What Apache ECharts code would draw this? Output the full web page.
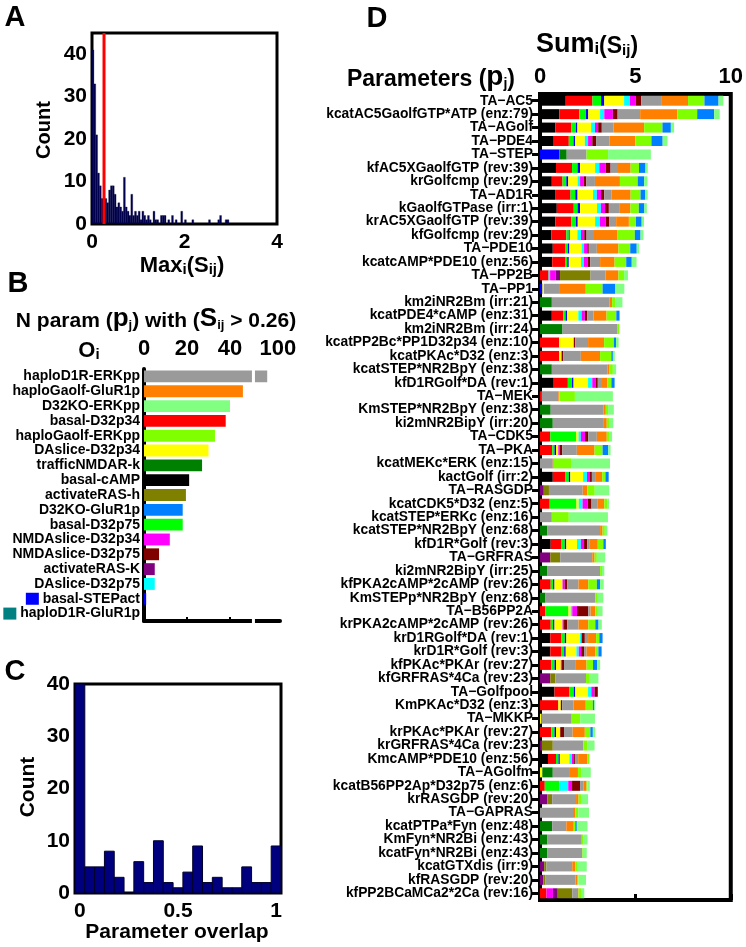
<!DOCTYPE html>
<html><head><meta charset="utf-8">
<script src="https://cdn.jsdelivr.net/npm/echarts@6/dist/echarts.min.js"></script>
<style>html,body{margin:0;padding:0;background:#fff}#c{width:746px;height:947px}</style>
</head><body><div id="c"></div>
<script>
// ---------------- DATA ----------------
// Panel A: histogram of Max_i(S_ij), bin width 0.04 starting at 0
const aBinWidth = 0.04;
const aCounts = [41,33,21,12,9,6,5,6,5,8, 9,9,7,4,5,4,3,11,4,3, 2,7,2,3,2,3,1,3,2,1,
  2,1,0,3,1,1,0,2,2,2, 0,1,0,2,0,1,0,0,3,0, 1,0,0,0,1,0,0,0,0,0, 0,0,0,1,0,0,0,0,1,2, 0,0,1,1];
const aThreshold = 0.26;

// Panel B: number of parameters with S_ij > 0.26 per experiment
const bExperiments = ['haploD1R-ERKpp','haploGaolf-GluR1p','D32KO-ERKpp','basal-D32p34','haploGaolf-ERKpp',
  'DAslice-D32p34','trafficNMDAR-k','basal-cAMP','activateRAS-h','D32KO-GluR1p','basal-D32p75',
  'NMDAslice-D32p34','NMDAslice-D32p75','activateRAS-K','DAslice-D32p75','basal-STEPact','haploD1R-GluR1p'];
const bCounts = [95,46,40,38,33,30,27,21,19.5,18,18,12,7,5,5,1,0];
const bColors = ['#9a9a9a','#ff8000','#80ff80','#ff0000','#80ff00','#ffff00','#008000','#000000','#808000',
  '#0080ff','#00ff00','#ff00ff','#800000','#800080','#00ffff','#0000ff','#008080'];
const bTickLabels = [0,20,40,100];
const bBreak = [50.2, 51.6];   // axis break (in axis units)
const bBreakShift = 37.7;      // values above break are shifted left by this

// Panel C: histogram of parameter overlap
const cBinCenters = [0,0.05,0.1,0.15,0.2,0.25,0.3,0.35,0.4,0.45,0.5,0.55,0.6,0.65,0.7,0.75,0.8,0.85,0.9,0.95,1];
const cCounts = [40,5,5,8,3,0,6,2,10,2,1,4,9,2,3,1,1,5,2,2,9];
const cBinWidth = 0.05;

// Panel D: Sum_i(S_ij) per parameter, stacked by experiment
const dParams = ['TA\u2212AC5','kcatAC5GaolfGTP*ATP (enz:79)','TA\u2212AGolf','TA\u2212PDE4','TA\u2212STEP',
 'kfAC5XGaolfGTP (rev:39)','krGolfcmp (rev:29)','TA\u2212AD1R','kGaolfGTPase (irr:1)','krAC5XGaolfGTP (rev:39)',
 'kfGolfcmp (rev:29)','TA\u2212PDE10','kcatcAMP*PDE10 (enz:56)','TA\u2212PP2B','TA\u2212PP1',
 'km2iNR2Bm (irr:21)','kcatPDE4*cAMP (enz:31)','km2iNR2Bm (irr:24)','kcatPP2Bc*PP1D32p34 (enz:10)','kcatPKAc*D32 (enz:3)',
 'kcatSTEP*NR2BpY (enz:38)','kfD1RGolf*DA (rev:1)','TA\u2212MEK','KmSTEP*NR2BpY (enz:38)','ki2mNR2BipY (irr:20)',
 'TA\u2212CDK5','TA\u2212PKA','kcatMEKc*ERK (enz:15)','kactGolf (irr:2)','TA\u2212RASGDP',
 'kcatCDK5*D32 (enz:5)','kcatSTEP*ERKc (enz:16)','kcatSTEP*NR2BpY (enz:68)','kfD1R*Golf (rev:3)','TA\u2212GRFRAS',
 'ki2mNR2BipY (irr:25)','kfPKA2cAMP*2cAMP (rev:26)','KmSTEPp*NR2BpY (enz:68)','TA\u2212B56PP2A','krPKA2cAMP*2cAMP (rev:26)',
 'krD1RGolf*DA (rev:1)','krD1R*Golf (rev:3)','kfPKAc*PKAr (rev:27)','kfGRFRAS*4Ca (rev:23)','TA\u2212Golfpool',
 'KmPKAc*D32 (enz:3)','TA\u2212MKKP','krPKAc*PKAr (rev:27)','krGRFRAS*4Ca (rev:23)','KmcAMP*PDE10 (enz:56)',
 'TA\u2212AGolfm','kcatB56PP2Ap*D32p75 (enz:6)','krRASGDP (rev:20)','TA\u2212GAPRAS','kcatPTPa*Fyn (enz:48)',
 'KmFyn*NR2Bi (enz:43)','kcatFyn*NR2Bi (enz:43)','kcatGTXdis (irr:9)','kfRASGDP (rev:20)','kfPP2BCaMCa2*2Ca (rev:16)'];

const dBasalCAMP = [1.35,1.01,0.81,0.72,0,0.84,0.62,0.79,0.88,0.81, 0.59,0.67,0.64,0,0,0,0.62,0,0,0, 0,0.72,0,0,0,0,0,0,0.67,0, 0,0,0,0.56,0,0,0,0,0,0, 0.54,0.54,0,0,0.76,0,0,0,0,0.42, 0,0,0,0,0,0,0,0,0,0];
const dBasalD32p34 = [1.40,1.06,0.82,0.79,0,0.84,0.56,0.81,0.89,0.82, 0.79,0.64,0.67,0.45,0,0,0.59,0,1.01,1.01, 0,0.74,0.08,0,0,0.54,0.64,0,0.67,0, 0.51,0,0,0.54,0,0,0.56,0,0.29,0.56, 0.59,0.56,0.59,0,0.76,0.96,0,0.59,0,0.42, 0,0.25,0,0,0,0,0,0,0,0.34];
const dBasalD32p75 = [0.45,0.34,0.25,0.25,0,0.29,0.20,0.25,0.20,0.25, 0.13,0.15,0.12,0,0,0,0.13,0,0,0, 0,0.22,0,0,0,1.36,0.12,0,0.17,0, 1.40,0,0,0.20,0,0,0.12,0,1.20,0.12, 0.17,0.17,0.17,0,0.25,0,0,0.17,0,0.13, 0,0.76,0,0,0,0,0,0,0,0];
const dBasalSTEPact = [0.17,0.12,0.08,0.08,1.01,0.13,0.10,0.12,0.13,0.10, 0.05,0.08,0.08,0,0.13,0,0.08,0,0,0, 0,0.08,0,0,0,0,0.08,0,0.08,0, 0,0,0,0.08,0,0,0.08,0,0,0.08, 0.08,0.08,0.08,0,0.08,0,0,0.08,0,0.07, 0,0,0,0,0,0,0,0,0,0];
const dDAsliceD32p34 = [1.04,0.62,0.72,0.51,0,0.79,0.49,0.81,0.89,0.91, 0.40,0.64,0.64,0,0.08,0,0.59,0,0.76,0.12, 0,0.76,0,0,0,0.12,0.12,0,0.67,0, 0.12,0,0,0.56,0,0,0.42,0,0.12,0.42, 0.72,0.56,0.25,0,0.67,0.13,0.06,0.22,0,0.50, 0.12,0,0,0,0,0,0,0,0,0];
const dDAsliceD32p75 = [0.30,0.22,0.20,0.17,0,0.22,0.13,0.20,0.20,0.25, 0.19,0.13,0.15,0.08,0,0,0.17,0,0,0, 0,0.22,0,0,0,0.12,0,0,0.20,0, 0.20,0,0,0.20,0,0,0,0,0.08,0, 0.08,0.12,0,0,0.17,0,0,0,0,0.13, 0,0.47,0,0,0,0,0,0,0,0];
const dNMDAsliceD32p34 = [0.30,0.45,0.17,0.22,0,0.34,0.20,0.22,0.22,0.30, 0.17,0.17,0.19,0.30,0,0,0.17,0,0,0, 0,0.17,0,0,0,0.22,0.08,0,0.13,0, 0.27,0,0,0.17,0,0,0.12,0,0.25,0.08, 0,0.13,0.05,0,0.17,0,0,0,0,0.08, 0,0.20,0,0,0,0,0,0,0,0.34];
const dNMDAsliceD32p75 = [0.30,0.25,0.19,0.20,0,0.25,0.13,0.17,0.20,0.20, 0.12,0.08,0.15,0,0,0,0.13,0,0.08,0.08, 0,0.12,0,0,0,0.17,0.13,0,0.13,0, 0.20,0,0,0.17,0,0,0.13,0,0.59,0.17, 0.17,0.15,0.12,0,0.17,0.08,0,0.20,0,0.08, 0,0.42,0,0,0,0,0,0,0,0];
const dActivateRASK = [0,0,0,0,0,0,0,0,0,0, 0,0,0,0.22,0,0,0,0,0,0, 0,0,0,0,0,0,0,0,0,0.20, 0,0,0,0,0.54,0,0,0,0,0, 0,0,0,0.54,0,0,0,0,0.08,0, 0,0,0.39,0,0,0,0,0.22,0.17,0.25];
const dActivateRASh = [0,0,0,0,0,0,0,0,0,0, 0,0,0,1.60,0,0,0,0,0,0, 0,0,0,0,0,0,0,0,0,0.27, 0,0,0,0,0.52,0,0,0,0,0, 0,0,0,0.27,0,0,0,0,0.59,0, 0,0,0.25,0,0,0,0,0.12,0.12,0.76];
const dTrafficNMDARk = [0,0,0,0,0.39,0,0,0,0,0, 0,0,0,0,0,0.62,0,1.18,0,0, 0.62,0,0,0.56,0.67,0,0,0,0,0, 0,0,0.39,0,0,0.37,0,0.29,0,0, 0,0,0,0,0,0,0,0,0,0, 0.55,0,0,0,0.64,0.39,0.39,0,0,0];
const dHaploD1RERKpp = [1.04,1.18,0.62,0.71,1.04,0.39,0.45,0.37,0.54,0.35, 0.34,0.42,0.51,0.79,0.79,3.03,0.32,2.86,0.67,0.93, 2.91,0.17,0.88,2.76,2.64,0.45,0.76,0.67,0.17,1.77, 0.30,0.62,2.76,0.10,1.68,2.78,0.59,2.61,0.12,0.59, 0.17,0.13,0.62,1.55,0,0.59,1.60,0.45,1.60,0.17, 0.90,0.17,1.25,1.73,0.74,1.80,1.83,1.35,1.57,0.25];
const dHaploGaolfGluR1p = [1.41,1.95,1.60,1.35,0,0.66,1.31,1.01,0.59,0.67, 1.26,1.13,0.76,0.67,1.40,0.13,0.69,0,0.84,1.01, 0.12,0.34,0.05,0.13,0.19,0.52,0.93,0.05,0.37,0.24, 0.37,0,0.13,0.45,0.12,0,0.51,0,0.25,0.51, 0.42,0.45,0.56,0.05,0,0.64,0,0.64,0,0.47, 0.42,0.17,0.13,0.13,0.39,0,0,0.17,0.08,0.08];
const dHaploGaolfERKpp = [0.86,1.04,0.96,0.84,1.13,0.44,0.93,0.52,0.44,0.37, 0.93,0.62,0.61,0.30,0.88,0.17,0.51,0.12,0.51,0.59, 0.17,0.20,0.82,0.12,0.12,0.15,0.42,0.91,0.17,0.39, 0.17,0.89,0.12,0.29,0.12,0.10,0.45,0.13,0.13,0.37, 0.17,0.17,0.34,0.20,0,0.37,0.45,0.29,0.22,0.12, 0.17,0.05,0.13,0.15,0.08,0.08,0.03,0.12,0.08,0.13];
const dD32KOGluR1p = [0.74,0.89,0.44,0.59,0,0.34,0.34,0.25,0.29,0.30, 0.30,0.34,0.29,0,0.67,0,0.17,0,0.12,0.08, 0,0.17,0,0,0,0,0.30,0,0.17,0, 0,0,0,0.13,0,0,0.17,0,0,0.17, 0.17,0.17,0.22,0,0,0.08,0,0.13,0,0, 0,0,0,0,0.08,0,0,0,0,0];
const dD32KOERKpp = [0.25,0.29,0.17,0.25,2.24,0.12,0.17,0.12,0.13,0.12, 0.15,0.13,0.25,0.20,0.47,0.37,0,0,0.13,0.10, 0.17,0,1.99,0.30,0.22,0.13,0.12,2.04,0,0.76, 0.08,2.05,0.13,0,0.44,0.12,0.19,0.29,0.25,0.17, 0,0,0.15,0.45,0,0.05,0.77,0.12,0.37,0, 0.50,0.12,0.37,0.56,0.56,0.22,0.20,0.47,0.39,0.17];

const dSeries = [
  ['basal-cAMP','#000000',dBasalCAMP], ['basal-D32p34','#ff0000',dBasalD32p34], ['basal-D32p75','#00ff00',dBasalD32p75],
  ['basal-STEPact','#0000ff',dBasalSTEPact], ['DAslice-D32p34','#ffff00',dDAsliceD32p34], ['DAslice-D32p75','#00ffff',dDAsliceD32p75],
  ['NMDAslice-D32p34','#ff00ff',dNMDAsliceD32p34], ['NMDAslice-D32p75','#800000',dNMDAsliceD32p75],
  ['activateRAS-K','#800080',dActivateRASK], ['activateRAS-h','#808000',dActivateRASh], ['trafficNMDAR-k','#008000',dTrafficNMDARk],
  ['haploD1R-ERKpp','#9a9a9a',dHaploD1RERKpp], ['haploGaolf-GluR1p','#ff8000',dHaploGaolfGluR1p], ['haploGaolf-ERKpp','#80ff00',dHaploGaolfERKpp],
  ['D32KO-GluR1p','#0080ff',dD32KOGluR1p], ['D32KO-ERKpp','#80ff80',dD32KOERKpp]
];

// ---------------- CHART ----------------
const FONT = '"Liberation Sans", Arial, Helvetica, sans-serif';
const chart = echarts.init(document.getElementById('c'), null, {renderer:'canvas'});
const lab = (size, extra) => Object.assign({fontSize:size, fontWeight:'bold', color:'#000', fontFamily:FONT}, extra||{});
const bDisp = v => v > bBreak[0] ? v - bBreakShift : v;

function gtext(id, x, y, text, rich, opts) {
  return Object.assign({
    type:'text', id, x, y, z:50,
    style: Object.assign({text, rich, x:0, y:0, fill:'#000', textAlign:'center', textVerticalAlign:'middle',
      fontFamily:FONT, fontWeight:'bold', fontSize:20}, (opts && opts.style) || {})
  }, (opts && opts.el) || {});
}
const R = (size, extra) => Object.assign({fontSize:size, fontWeight:'bold', fontFamily:FONT, fill:'#000', verticalAlign:'bottom', lineHeight:size}, extra||{});

const series = [];
// A histogram
series.push({
  type:'custom', xAxisIndex:0, yAxisIndex:0, clip:true,
  data: aCounts.map((c,k)=>[k*aBinWidth,(k+1)*aBinWidth,c]),
  encode:{x:[0,1], y:2},
  renderItem:(p, api)=>{
    const p0 = api.coord([api.value(0),0]), p1 = api.coord([api.value(1),api.value(2)]);
    return {type:'rect', shape:{x:p0[0], y:p1[1], width:Math.max(p1[0]-p0[0],0.5), height:p0[1]-p1[1]},
      style:{fill:'#000052', stroke:'#000030', lineWidth:0.3}};
  }
});
series.push({type:'line', xAxisIndex:0, yAxisIndex:0, data:[[aThreshold,0],[aThreshold,45]], symbol:'none',
  lineStyle:{color:'#ff0000', width:3}, z:5, silent:true});
// B bars
series.push({
  type:'bar', xAxisIndex:1, yAxisIndex:1, barCategoryGap:'20%',
  data: bCounts.map((v,i)=>({value:bDisp(v), itemStyle:{color:bColors[i]}})), silent:true
});
// C histogram
series.push({
  type:'custom', xAxisIndex:3, yAxisIndex:3, clip:false,
  data: cBinCenters.map((c,i)=>[c-cBinWidth/2, c+cBinWidth/2, cCounts[i]]),
  encode:{x:[0,1], y:2},
  renderItem:(p, api)=>{
    const p0 = api.coord([api.value(0),0]), p1 = api.coord([api.value(1),api.value(2)]);
    return {type:'rect', shape:{x:p0[0], y:p1[1], width:p1[0]-p0[0], height:p0[1]-p1[1]},
      style:{fill:'#00007f', stroke:'#000028', lineWidth:1}};
  }
});
// D stacked bars
dSeries.forEach(([name,color,data])=>{
  series.push({type:'bar', name, stack:'d', xAxisIndex:4, yAxisIndex:4, data, barWidth:10,
    itemStyle:{color}, silent:true});
});

const bMarkerKey = {'basal-STEPact':'mb','haploD1R-GluR1p':'mt'};

const option = {
  animation:false,
  grid:[
    {left:92, top:33, width:185, height:191, show:true, borderColor:'#000', borderWidth:3, backgroundColor:'transparent'},
    {left:144, top:369, width:136, height:252},
    {left:75, top:684, width:206, height:209, show:true, borderColor:'#000', borderWidth:3, backgroundColor:'transparent'},
    {left:540, top:94, width:198, height:806, show:true, borderColor:'#000', borderWidth:4, backgroundColor:'transparent'}
  ],
  xAxis:[
    {gridIndex:0, type:'value', min:0, max:4, interval:2, axisLine:{show:false}, axisTick:{show:false}, splitLine:{show:false},
      axisLabel:lab(21,{margin:8})},
    {gridIndex:1, type:'value', position:'top', min:0, max:63.25, axisLine:{show:false}, axisTick:{show:false}, splitLine:{show:false},
      axisLabel:lab(22,{margin:9, customValues: bTickLabels.map(v => v > bBreak[0] ? v - bBreakShift : v),
        formatter: v => v > bBreak[0] ? String(Math.round(v + bBreakShift)) : String(Math.round(v))})},
    {gridIndex:1, type:'value', position:'bottom', min:0, max:63.25, axisLine:{show:true, lineStyle:{color:'#000', width:4}},
      axisTick:{show:true, inside:true, length:4, lineStyle:{color:'#000', width:2}, customValues:[20,40]},
      axisLabel:{show:false}, splitLine:{show:false}},
    {gridIndex:2, type:'value', min:-0.025, max:1.025, axisLine:{show:false}, axisTick:{show:false}, splitLine:{show:false},
      axisLabel:lab(21,{margin:8, customValues:[0,0.5,1]})},
    {gridIndex:3, type:'value', position:'top', min:0, max:10, interval:5, axisLine:{show:false}, axisTick:{show:false}, splitLine:{show:false},
      axisLabel:lab(22,{margin:6})},
    {gridIndex:3, type:'value', position:'bottom', min:0, max:10, interval:5, axisLine:{show:false},
      axisTick:{show:true, inside:true, length:6, lineStyle:{color:'#000', width:3}}, axisLabel:{show:false}, splitLine:{show:false}}
  ],
  yAxis:[
    {gridIndex:0, type:'value', min:0, max:45, interval:10, axisLine:{show:false}, axisTick:{show:false}, splitLine:{show:false},
      axisLabel:lab(21,{margin:5, formatter: v => v===45 ? '' : String(v)})},
    {gridIndex:1, type:'category', inverse:true, data:bExperiments, axisLine:{show:true, lineStyle:{color:'#000030', width:1.5}},
      axisTick:{show:false},
      axisLabel:lab(14,{margin:4, interval:0, formatter: v => bMarkerKey[v] ? `{${bMarkerKey[v]}|} ${v}` : v,
        rich:{mb:{width:13, height:12, backgroundColor:'#0000ff'}, mt:{width:13, height:12, backgroundColor:'#008080'}}})},
    {gridIndex:1, type:'category', inverse:true, position:'right', data:bExperiments, axisLine:{show:true, lineStyle:{color:'#000', width:4}},
      axisTick:{show:false}, axisLabel:{show:false}},
    {gridIndex:2, type:'value', min:0, max:40, interval:10, axisLine:{show:false}, axisTick:{show:false}, splitLine:{show:false},
      axisLabel:lab(21,{margin:5})},
    {gridIndex:3, type:'category', inverse:true, data:dParams, axisLine:{show:false}, axisTick:{show:false},
      axisLabel:lab(13.8,{margin:7, interval:0})},
    {gridIndex:3, type:'category', inverse:true, position:'right', data:dParams, axisLine:{show:false},
      axisTick:{show:true, inside:true, length:8, alignWithLabel:true, interval:0, lineStyle:{color:'#000', width:3}},
      axisLabel:{show:false}}
  ],
  series,
  graphic:[
    gtext('tA', 15, 18, 'A', null, {style:{fontSize:29}}),
    gtext('tB', 18, 284, 'B', null, {style:{fontSize:29}}),
    gtext('tC', 15, 672, 'C', null, {style:{fontSize:29}}),
    gtext('tD', 377, 19, 'D', null, {style:{fontSize:29}}),
    gtext('aCount', 44, 130, 'Count', null, {style:{fontSize:20}, el:{rotation:Math.PI/2}}),
    gtext('cCount', 28, 787, 'Count', null, {style:{fontSize:21}, el:{rotation:Math.PI/2}}),
    gtext('aX', 182, 265, '{a|Max}{s|i}{a|(S}{s|ij}{a|)}', {a:R(22,{lineHeight:24}), s:R(15,{lineHeight:12})}, {style:{}}),
    gtext('bTitle', 156, 318, '{a|N param (}{b|p}{s|j}{a|) with (}{b|S}{s|ij}{a| > 0.26)}',
      {a:R(21,{lineHeight:24}), b:R(26,{lineHeight:28}), s:R(13,{lineHeight:14})}, {style:{}}),
    gtext('oi', 89, 350, '{a|O}{s|i}', {a:R(22,{lineHeight:24}), s:R(15,{lineHeight:18})}, {style:{}}),
    gtext('cX', 177, 932, 'Parameter overlap', null, {style:{fontSize:21}}),
    gtext('dSum', 587, 44, '{a|Sum}{s|i}{m|(S}{t|ij}{m|)}',
      {a:R(27,{lineHeight:28}), m:R(23,{lineHeight:25}), s:R(17,{lineHeight:20}), t:R(15,{lineHeight:19})}, {style:{}}),
    gtext('dPar', 515, 77, '{a|Parameters (}{b|p}{s|j}{a|)}', {a:R(23,{lineHeight:25}), b:R(28,{lineHeight:29}), s:R(14,{lineHeight:15})},
      {style:{textAlign:'right'}})
  ]
};
chart.setOption(option);

// axis break gap for panel B (white strip through bars and bottom axis)
const xb0 = chart.convertToPixel({xAxisIndex:1}, bBreak[0]);
const xb1 = chart.convertToPixel({xAxisIndex:1}, bBreak[1]);
chart.setOption({graphic:[{type:'rect', id:'bBreakGap', z:60, shape:{x:xb0, y:362, width:xb1-xb0, height:264}, style:{fill:'#fff'}}]});
</script></body></html>
